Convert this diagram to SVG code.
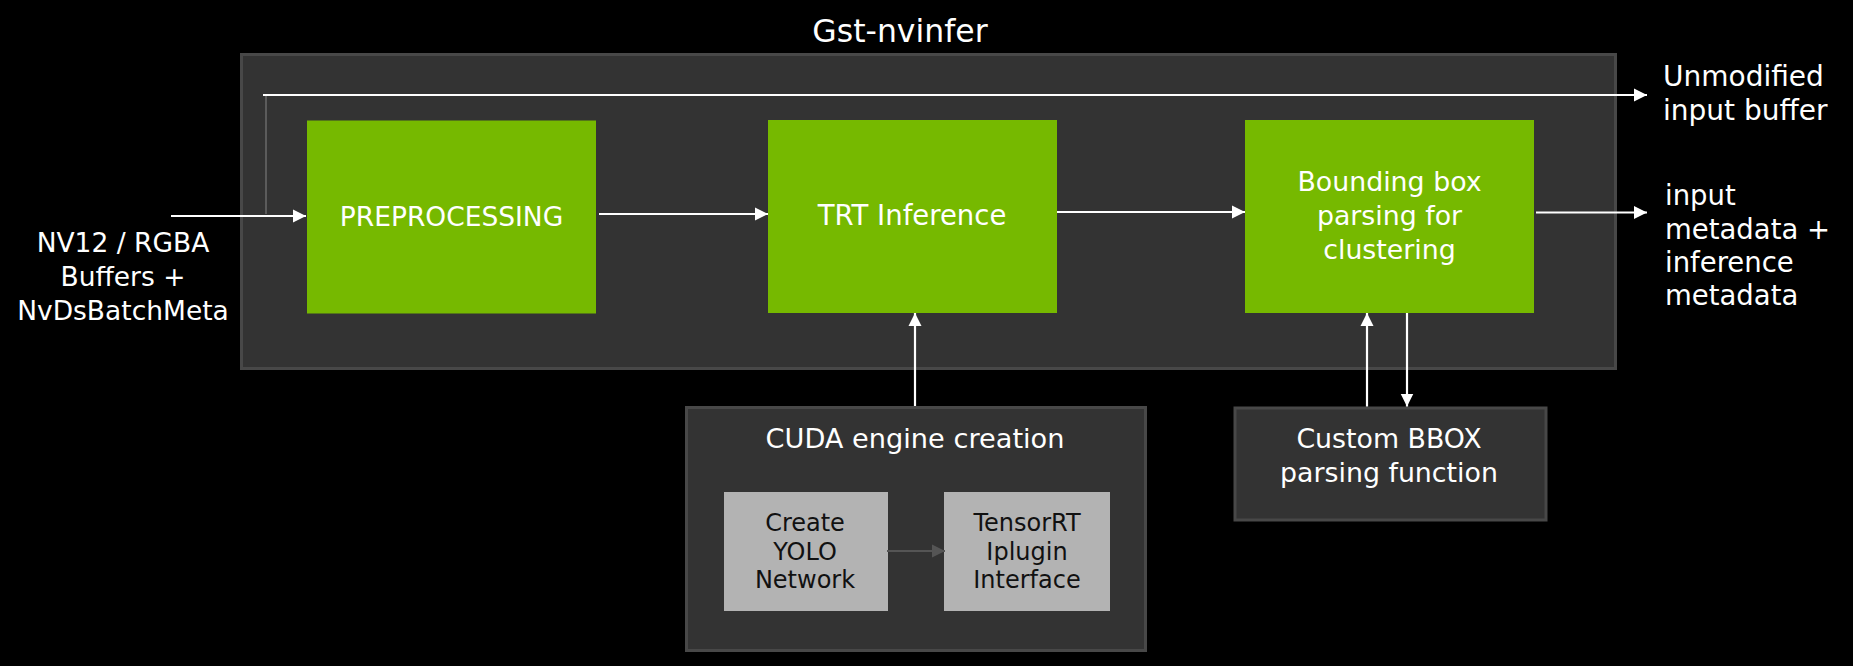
<svg xmlns="http://www.w3.org/2000/svg" width="1853" height="666" viewBox="0 0 1853 666">
<defs>
<style>
text{font-family:"DejaVu Sans","Noto Sans",sans-serif;fill:#fff}
.c{text-anchor:middle}
.dark{fill:#111}
.frame{fill:#333333;stroke:#484848;stroke-width:3}
.green{fill:#76b900}
.gray{fill:#b3b3b3}
.w{stroke:#fff;stroke-width:2.2;fill:none}
.g{stroke:#555;stroke-width:2.2;fill:none}
</style>
<marker id="aw" markerUnits="userSpaceOnUse" markerWidth="14" markerHeight="14" viewBox="0 0 14 14" refX="13" refY="7" orient="auto">
<path d="M0,0.5 L13,7 L0,13.5 Z" fill="#fff"/>
</marker>
<marker id="ag" markerUnits="userSpaceOnUse" markerWidth="14" markerHeight="14" viewBox="0 0 14 14" refX="13" refY="7" orient="auto">
<path d="M0,0.5 L13,7 L0,13.5 Z" fill="#555"/>
</marker>
</defs>
<rect width="1853" height="666" fill="#000"/>

<g id="gst-nvinfer">
<rect class="frame" x="241.5" y="54.5" width="1374" height="314"/>
<text class="c" x="900" y="42" font-size="31.5">Gst-nvinfer</text>
</g>

<g id="input-label">
<text class="c" x="123" y="252" font-size="26.5">NV12 / RGBA</text>
<text class="c" x="123" y="286" font-size="26.5">Buffers +</text>
<text class="c" x="123" y="320" font-size="26.5">NvDsBatchMeta</text>
</g>

<g id="preprocessing">
<rect class="green" x="307" y="120.5" width="289" height="193"/>
<text class="c" x="451.5" y="226" font-size="26.5">PREPROCESSING</text>
</g>

<g id="trt-inference">
<rect class="green" x="768" y="120" width="289" height="193"/>
<text class="c" x="912" y="225" font-size="27.5">TRT Inference</text>
</g>

<g id="bbox-parsing">
<rect class="green" x="1245" y="120" width="289" height="193"/>
<text class="c" x="1389.5" y="191" font-size="26.8">Bounding box</text>
<text class="c" x="1389.5" y="225" font-size="26.8">parsing for</text>
<text class="c" x="1389.5" y="259" font-size="26.8">clustering</text>
</g>

<g id="cuda-engine">
<rect class="frame" x="686.5" y="407.5" width="459" height="243"/>
<text class="c" x="915" y="448" font-size="27.2">CUDA engine creation</text>
</g>

<g id="create-yolo">
<rect class="gray" x="724" y="492" width="164" height="119"/>
<text class="c dark" x="805" y="531" font-size="24">Create</text>
<text class="c dark" x="805" y="559.5" font-size="24">YOLO</text>
<text class="c dark" x="805" y="588" font-size="24">Network</text>
</g>

<g id="tensorrt-iplugin">
<rect class="gray" x="944" y="492" width="166" height="119"/>
<text class="c dark" x="1027" y="531" font-size="24">TensorRT</text>
<text class="c dark" x="1027" y="559.5" font-size="24">Iplugin</text>
<text class="c dark" x="1027" y="588" font-size="24">Interface</text>
</g>

<g id="custom-bbox">
<rect class="frame" x="1235" y="408" width="311" height="112"/>
<text class="c" x="1389" y="448" font-size="26.8">Custom BBOX</text>
<text class="c" x="1389" y="482" font-size="26.8">parsing function</text>
</g>

<g id="output-labels">
<text x="1663" y="86" font-size="28">Unmodified</text>
<text x="1663" y="120" font-size="28">input buffer</text>
<text x="1665" y="205" font-size="27.5">input</text>
<text x="1665" y="238.5" font-size="27.5">metadata +</text>
<text x="1665" y="272" font-size="27.5">inference</text>
<text x="1665" y="305" font-size="27.5">metadata</text>
</g>

<g id="connectors">
<line class="w" x1="171" y1="216" x2="306" y2="216" marker-end="url(#aw)"/>
<line x1="266" y1="214" x2="266" y2="95" stroke="#6a6a6a" stroke-width="1.5"/>
<line class="w" x1="263" y1="95" x2="1647" y2="95" marker-end="url(#aw)"/>
<line class="w" x1="599" y1="214" x2="768" y2="214" marker-end="url(#aw)"/>
<line class="w" x1="1057" y1="212" x2="1245" y2="212" marker-end="url(#aw)"/>
<line class="w" x1="1536" y1="212.5" x2="1647" y2="212.5" marker-end="url(#aw)"/>
<line class="w" x1="915" y1="406" x2="915" y2="313" marker-end="url(#aw)"/>
<line class="w" x1="1367" y1="406.5" x2="1367" y2="313" marker-end="url(#aw)"/>
<line class="w" x1="1407" y1="313" x2="1407" y2="406.5" marker-end="url(#aw)"/>
<line class="g" x1="887" y1="551" x2="945" y2="551" marker-end="url(#ag)"/>
</g>
</svg>
